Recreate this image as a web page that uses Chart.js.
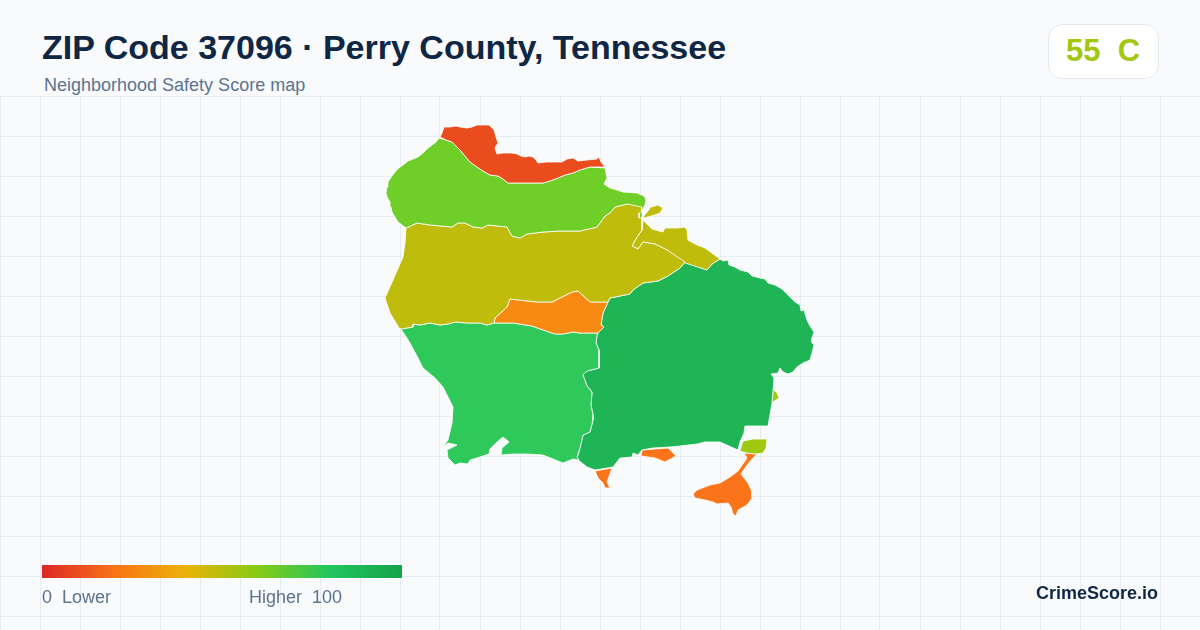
<!DOCTYPE html>
<html><head><meta charset="utf-8">
<script src="https://cdn.jsdelivr.net/npm/chart.js@4/dist/chart.umd.js"></script>
<style>
html,body{margin:0;padding:0;width:1200px;height:630px;overflow:hidden;background:#f8fafc;font-family:"Liberation Sans",Arial,sans-serif}
#wrap{position:absolute;left:0;top:96px;width:1200px;height:534px}
.t{position:absolute;white-space:pre;line-height:1}
#title{left:42px;top:30px;font-size:34px;font-weight:700;color:#0f2744}
#sub{left:44px;top:76px;font-size:18px;color:#5b7390}
#badge{position:absolute;left:1048px;top:24px;width:109px;height:53px;background:#fff;border:1px solid #e2e8f0;border-radius:14px}
#score{left:1066px;top:35px;font-size:31px;font-weight:700;color:#a3c60f}
#bar{position:absolute;left:42px;top:565px;width:360px;height:13px;background:linear-gradient(90deg,#dc2626 0%,#f97316 20%,#eab308 40%,#84cc16 60%,#22c55e 80%,#16a34a 100%)}
#lo{left:42px;top:588px;font-size:18px;color:#5b7390}
#hi{left:249px;top:588px;font-size:18px;color:#5b7390}
#brand{left:1036px;top:584px;font-size:18px;font-weight:700;color:#0f2744}
</style></head><body>
<div id="wrap"><canvas id="c" width="1200" height="534"></canvas></div>
<div class="t" id="title">ZIP Code 37096 · Perry County, Tennessee</div>
<div class="t" id="sub">Neighborhood Safety Score map</div>
<div id="badge"></div><div class="t" id="score">55  C</div>
<div id="bar"></div>
<div class="t" id="lo">0  Lower</div>
<div class="t" id="hi">Higher  100</div>
<div class="t" id="brand">CrimeScore.io</div>
<script>
// Map outlines (map units)
const northTract=[[440,137],[442,133],[444,127],[450,127],[456,126],[460,127],[467,128],[472,127],[477,125],[483,125],[489,125],[492,128],[494,130],[496,137],[498,143],[496,146],[495,148],[497,154],[502,153],[507,153],[512,153],[517,154],[521,156],[525,157],[529,156],[533,157],[536,160],[538,163],[547,162],[553,162],[557,162],[562,162],[567,159],[573,158],[578,161],[587,160],[597,159],[599,157],[601,162],[605,167],[590,167],[580,170],[573,173],[565,175],[558,178],[550,181],[543,183],[525,183],[508,183],[503,179],[498,176],[490,175],[483,171],[477,167],[470,162],[465,156],[460,150],[456,146],[452,142],[446,140],[440,137]];
const upperTract=[[439,138],[446,140],[452,142],[456,146],[460,150],[465,156],[470,162],[477,167],[483,171],[490,175],[498,176],[503,179],[508,183],[525,183],[543,183],[550,181],[558,178],[565,175],[573,173],[580,170],[590,167],[605,168],[606,173],[607,178],[604,184],[610,188],[617,190],[623,192],[637,193],[644,196],[646,200],[645,205],[642,211],[639,213],[639,218],[642,218],[642,207],[627,204],[615,207],[610,213],[605,216],[597,227],[580,231],[560,231],[543,232],[527,234],[520,238],[512,236],[507,227],[488,225],[482,228],[473,227],[465,223],[458,223],[452,227],[430,225],[417,223],[406,228],[402,225],[398,222],[395,217],[392,212],[391,207],[390,202],[387,197],[386,193],[387,187],[388,182],[392,176],[395,172],[399,168],[403,165],[408,161],[413,159],[418,157],[423,153],[427,149],[432,145],[436,142],[439,138]];
const middleTract=[[406,228],[417,223],[430,225],[452,227],[458,223],[465,223],[473,227],[482,228],[488,225],[507,227],[512,236],[520,238],[527,234],[543,232],[560,231],[580,231],[597,227],[605,216],[610,213],[615,207],[627,204],[642,206],[642,213],[642,230],[637,237],[632,246],[638,249],[643,242],[655,244],[667,250],[685,262],[680,268],[668,276],[658,281],[643,283],[633,290],[630,294],[610,298],[608,302],[590,302],[578,291],[572,292],[552,302],[537,302],[510,299],[507,307],[495,318],[494,323],[487,325],[480,323],[467,323],[455,322],[448,324],[440,325],[430,323],[420,325],[413,324],[413,327],[401,329],[399,328],[390,313],[385,298],[393,280],[403,257],[405,243],[406,228]];
const eastLobe=[[643,220],[652,229],[663,232],[665,228],[677,228],[685,227],[687,230],[688,240],[695,244],[705,248],[720,259],[712,264],[707,270],[698,267],[685,263],[667,250],[655,244],[643,242],[638,249],[632,246],[637,237],[642,230],[643,220]];
const riverIsle=[[643,217],[647,212],[651,207],[658,205],[663,208],[660,213],[655,215],[648,217],[643,218],[643,217]];
const centerTract=[[510,299],[537,302],[552,302],[572,292],[578,291],[590,302],[608,302],[603,313],[601,325],[604,327],[598,333],[580,333],[573,332],[563,334],[555,334],[543,330],[532,326],[513,323],[494,323],[495,318],[507,307],[510,299]];
const southTract=[[401,329],[413,327],[413,324],[420,325],[430,323],[440,325],[448,324],[455,322],[467,323],[480,323],[487,325],[494,323],[513,323],[532,326],[543,330],[555,334],[563,334],[573,332],[580,333],[598,333],[597,335],[596,343],[599,350],[599,368],[587,371],[583,375],[587,386],[592,392],[591,405],[593,415],[593,420],[590,432],[583,435],[580,448],[577,457],[579,460],[573,459],[563,463],[553,459],[543,455],[527,454],[513,454],[501,455],[502,448],[509,442],[503,437],[497,442],[490,449],[489,454],[480,457],[470,460],[468,464],[460,463],[455,465],[451,461],[448,458],[447,450],[457,445],[448,443],[443,447],[448,440],[452,423],[453,407],[448,397],[443,387],[435,378],[423,368],[418,358],[410,343],[405,335],[401,329]];
const eastTract=[[720,259],[723,261],[728,260],[729,265],[735,267],[740,270],[748,272],[752,276],[760,278],[765,279],[768,283],[775,285],[782,289],[790,297],[795,302],[800,305],[801,311],[804,310],[807,320],[810,326],[814,332],[812,338],[812,343],[814,345],[812,353],[810,360],[803,363],[797,367],[793,372],[788,374],[783,372],[780,368],[778,373],[771,374],[774,378],[772,403],[768,426],[745,426],[744,433],[740,442],[738,450],[720,442],[705,442],[697,444],[680,446],[670,447],[653,448],[642,450],[638,455],[633,453],[632,457],[620,458],[613,467],[595,470],[587,467],[577,459],[580,448],[583,435],[590,432],[593,420],[593,415],[591,405],[592,392],[587,386],[583,375],[587,371],[599,368],[599,350],[596,343],[597,335],[598,333],[604,327],[601,325],[603,313],[608,302],[610,298],[630,294],[633,290],[643,283],[658,281],[668,276],[680,268],[685,262],[698,267],[707,270],[712,264],[720,259]];
const limeBlock=[[740,450],[743,441],[753,439],[767,439],[766,448],[763,453],[755,454],[747,453],[740,451],[740,450]];
const limeSliver=[[773,389],[777,393],[779,398],[773,402],[772,403],[773,389]];
const spitWest=[[595,471],[612,468],[607,482],[610,488],[605,488],[603,483],[598,478],[595,471]];
const spitMiddle=[[642,450],[668,448],[676,456],[665,462],[655,458],[641,456],[642,450]];
const spitEast=[[744,453],[757,454],[752,459],[747,465],[741,474],[744,478],[748,483],[752,492],[752,498],[747,505],[738,510],[736,516],[733,514],[731,507],[728,503],[717,504],[713,502],[705,500],[695,498],[693,494],[697,490],[710,485],[720,483],[730,477],[738,471],[747,458],[744,453]];

const regionShapes=[northTract,upperTract,middleTract,eastLobe,riverIsle,centerTract,southTract,eastTract,limeBlock,limeSliver,spitWest,spitMiddle,spitEast];
const regionColors=['#ea4c1e','#6fce28','#c0bc0c','#c0bc0c','#c0bc0c','#f68a12','#2ec95a','#1fb556','#9ec90f','#9ec90f','#fb7419','#fb7419','#fb7419'];

const gridXTicks=[];for(let v=0;v<=1200;v+=40)gridXTicks.push(v);
const gridYTicks=[];for(let v=96;v<=630;v+=40)gridYTicks.push(v);
const gridStyle={color:'#e6edf2',lineWidth:1,drawTicks:false};

new Chart(document.getElementById('c'),{
  type:'scatter',
  data:{datasets:regionShapes.map((s,i)=>({
    data:s.map(p=>({x:p[0],y:p[1]})),
    showLine:true,fill:'shape',tension:0,
    backgroundColor:regionColors[i],borderColor:'#ffffff',borderWidth:0.8,pointRadius:0,pointHoverRadius:0
  }))},
  options:{
    responsive:false,animation:false,devicePixelRatio:1,
    layout:{padding:0},
    events:[],
    plugins:{legend:{display:false},tooltip:{enabled:false},title:{display:false}},
    scales:{
      x:{type:'linear',min:0,max:1200,display:true,border:{display:false},grid:gridStyle,ticks:{display:false},
         afterBuildTicks:a=>{a.ticks=gridXTicks.map(v=>({value:v}))},afterFit:a=>{a.height=0}},
      y:{type:'linear',min:96,max:630,reverse:true,display:true,border:{display:false},grid:gridStyle,ticks:{display:false},
         afterBuildTicks:a=>{a.ticks=gridYTicks.map(v=>({value:v}))},afterFit:a=>{a.width=0}}
    }
  }
});
</script>
</body></html>
